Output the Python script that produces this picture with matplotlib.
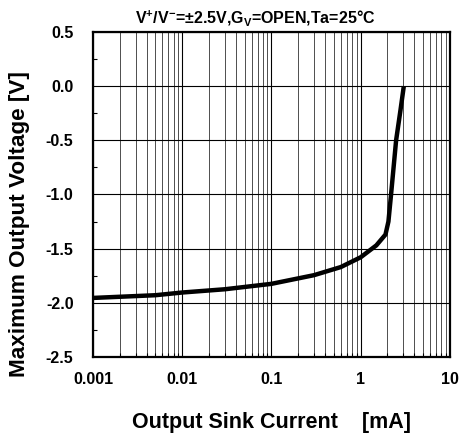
import matplotlib
matplotlib.use("Agg")
import matplotlib.pyplot as plt
from matplotlib.ticker import FixedLocator, NullFormatter, LogLocator

plt.rcParams['font.family'] = ['Liberation Sans', 'DejaVu Sans']
plt.rcParams['mathtext.fontset'] = 'custom'
plt.rcParams['mathtext.rm'] = 'Liberation Sans:bold'
plt.rcParams['mathtext.it'] = 'Liberation Sans:bold'
plt.rcParams['mathtext.bf'] = 'Liberation Sans:bold'

current_mA = [0.001, 0.005, 0.01, 0.03, 0.1, 0.3, 0.6, 1.0, 1.5, 1.9, 2.05, 2.2, 2.5, 2.8, 3.05]
voltage_V = [-1.955, -1.93, -1.905, -1.875, -1.825, -1.745, -1.67, -1.58, -1.47, -1.37, -1.25, -0.99, -0.5, -0.22, 0.0]

y_ticks = [0.5, 0.0, -0.5, -1.0, -1.5, -2.0, -2.5]
y_labels = ["0.5", "0.0", "-0.5", "-1.0", "-1.5", "-2.0", "-2.5"]
x_ticks = [0.001, 0.01, 0.1, 1, 10]
x_labels = ["0.001", "0.01", "0.1", "1", "10"]

fig = plt.figure(figsize=(4.59, 4.38), dpi=100)
ax = fig.add_axes([0.2026, 0.185, 0.7774, 0.742])

ax.set_xscale('log')
ax.set_xlim(0.001, 10)
ax.set_ylim(-2.5, 0.5)

ax.plot(current_mA, voltage_V, color='black', lw=3.2, solid_capstyle='butt',
        solid_joinstyle='round', zorder=3)

ax.set_xticks(x_ticks)
ax.set_xticklabels(x_labels, fontsize=11.5, fontweight='bold')
ax.xaxis.set_minor_locator(LogLocator(base=10, subs=range(2, 10)))
ax.xaxis.set_minor_formatter(NullFormatter())
ax.set_yticks(y_ticks)
ax.set_yticklabels(y_labels, fontsize=11.5, fontweight='bold')
ax.yaxis.set_minor_locator(FixedLocator([0.25, -0.25, -0.75, -1.25, -1.75, -2.25]))

ax.grid(which='major', axis='both', color='black', lw=0.8)
ax.grid(which='minor', axis='x', color='0.3', lw=0.7)

ax.tick_params(which='major', direction='in', length=0)
ax.tick_params(which='minor', direction='in', length=3, width=0.8)
ax.tick_params(axis='y', which='major', pad=14)
ax.tick_params(axis='x', which='major', pad=11)
for s in ax.spines.values():
    s.set_linewidth(1.6)

ax.set_xlabel("Output Sink Current    [mA]", fontsize=15.5, fontweight='bold', labelpad=18)
ax.set_ylabel("Maximum Output Voltage [V]", fontsize=16.2, fontweight='bold')
ax.yaxis.set_label_coords(-0.176, 0.41)
ax.set_title(r"V$^{+}$/V$^{-}$=±2.5V,G$_{V}$=OPEN,Ta=25°C", fontsize=11.5,
             fontweight='bold', pad=6, x=0.455)

fig.savefig("out.png", dpi=100)
